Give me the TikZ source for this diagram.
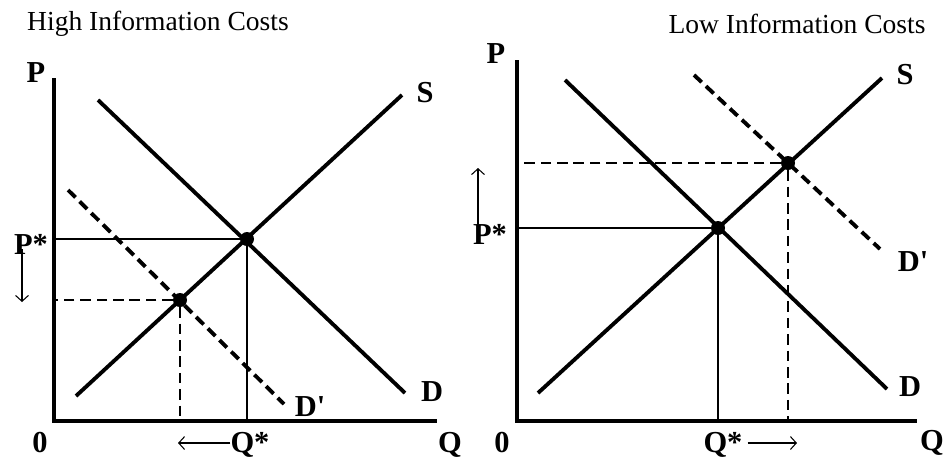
\documentclass[tikz,border=0pt]{standalone}
\usepackage{fontspec}
\setmainfont{Liberation Serif}
\usetikzlibrary{arrows.meta, positioning, calc}

\begin{document}
\begin{tikzpicture}[x=0.03cm, y=-0.03cm,
    axis/.style={line width=3.8pt, line cap=rect},
    curve/.style={line width=3.3pt},
    shifted/.style={line width=3.3pt, dash pattern=on 9pt off 5pt},
    guide/.style={line width=1.1pt},
    guidedash/.style={line width=1.1pt, dash pattern=on 9pt off 5pt},
    dot/.style={circle, fill=black, inner sep=0pt, minimum size=0.42cm},
    lbl/.style={font=\fontsize{26}{26}\selectfont\bfseries, inner sep=0pt},
    ttl/.style={font=\fontsize{23.5}{24}\selectfont, inner sep=0pt},
    move/.style={line width=0.9pt, -{Straight Barb[length=5pt, width=11pt]}}
]
\useasboundingbox (0,0) rectangle (943,463);

% titles
\node[ttl] (ttlHigh) at (158,24) {High Information Costs};
\node[ttl] (ttlLow) at (797,24) {Low Information Costs};

% ---- high information costs ----
\coordinate (hO) at (54,421);
\coordinate (hTop) at (54,80);
\coordinate (hEnd) at (435,421);
\draw[axis] (hTop) -- (hO) -- (hEnd);

\node[dot] (hE) at (247,239) {};
\node[dot] (hE2) at (180,300) {};

\coordinate (hS0) at (76,396);
\coordinate (hS1) at (402,95);
\coordinate (hD0) at (98,100);
\coordinate (hD1) at (405,393);
\coordinate (hDd0) at (68,190);
\coordinate (hDd1) at (284,404);
\draw[curve] (hS0) -- (hS1);
\draw[curve] (hD0) -- (hD1);
\draw[shifted] (hDd0) -- (hDd1);

\draw[guide] (hE) -- (hE -| hO);
\draw[guide] (hE) -- (hE |- hO);
\draw[guidedash] (hE2) -- (hE2 -| hO);
\draw[guidedash] (hE2) -- (hE2 |- hO);

\node[lbl] (hP) at (36,73) {P};
\node[lbl] (hS) at (425,93) {S};
\node[lbl] (hD) at (432,392) {D};
\node[lbl] (hDd) at (310,407) {D\textquotesingle};
\node[lbl] (hZero) at (40,443) {0};
\node[lbl] (hQ) at (450,445) {Q};
\node[lbl] (hPs) at (31,244) {P*};
\node[lbl] (hQs) at (250,445) {Q*};

\coordinate (hPdn) at (22,302);
\coordinate (hQlt) at (178,443);
\draw[move] (hPs.south -| hPdn) ++(0,-5) -- (hPdn);
\draw[move] (hQs.west |- hQlt) -- (hQlt);

% ---- low information costs ----
\coordinate (lO) at (517,421);
\coordinate (lTop) at (517,62);
\coordinate (lEnd) at (915,421);
\draw[axis] (lTop) -- (lO) -- (lEnd);

\node[dot] (lE) at (718,228) {};
\node[dot] (lE2) at (788,163) {};

\coordinate (lS0) at (538,393);
\coordinate (lS1) at (882,78);
\coordinate (lD0) at (565,80);
\coordinate (lD1) at (887,389);
\coordinate (lDd0) at (694,75);
\coordinate (lDd1) at (880,249);
\draw[curve] (lS0) -- (lS1);
\draw[curve] (lD0) -- (lD1);
\draw[shifted] (lDd0) -- (lDd1);

\draw[guide] (lE) -- (lE -| lO);
\draw[guide] (lE) -- (lE |- lO);
\draw[guidedash] (lE2) -- (lE2 -| lO);
\draw[guidedash] (lE2) -- (lE2 |- lO);

\node[lbl] (lP) at (496,54) {P};
\node[lbl] (lS) at (905,75) {S};
\node[lbl] (lD) at (910,387) {D};
\node[lbl] (lDd) at (913,262) {D\textquotesingle};
\node[lbl] (lZero) at (502,443) {0};
\node[lbl] (lQ) at (932,443) {Q};
\node[lbl] (lPs) at (490,234) {P*};
\node[lbl] (lQs) at (723,445) {Q*};

\coordinate (lPup) at (478,168);
\coordinate (lQrt) at (797,443);
\draw[move] (lPs.north -| lPup) ++(0,5) -- (lPup);
\draw[move] (lQs.east |- lQrt) ++(5,0) -- (lQrt);
\end{tikzpicture}
\end{document}
